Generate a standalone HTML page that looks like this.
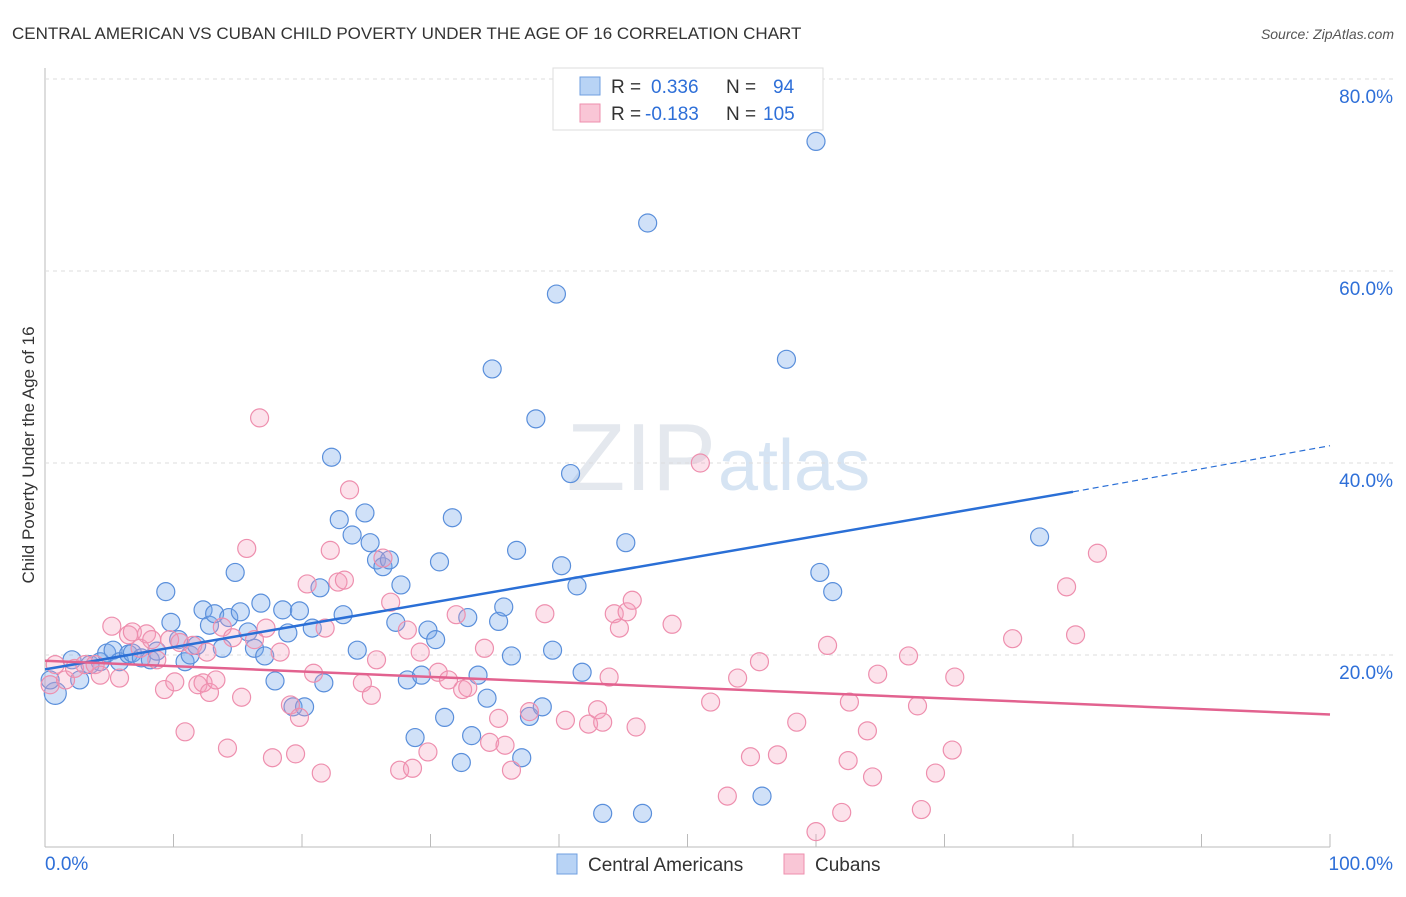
<!DOCTYPE html>
<html><head><meta charset="utf-8"><style>
body{margin:0;background:#fff;font-family:"Liberation Sans",sans-serif}
svg text{font-family:"Liberation Sans",sans-serif}
</style></head><body>
<svg id="chart" width="1406" height="892">
<text x="12" y="39" font-size="17" fill="#333">CENTRAL AMERICAN VS CUBAN CHILD POVERTY UNDER THE AGE OF 16 CORRELATION CHART</text>
<text x="1394" y="39" font-size="14" fill="#555" text-anchor="end" font-style="italic">Source: ZipAtlas.com</text>
<text transform="translate(34,455) rotate(-90)" font-size="17" fill="#333" text-anchor="middle">Child Poverty Under the Age of 16</text>
<text x="716" y="490" font-size="96" fill="#e4e8ee" text-anchor="end" font-family="Liberation Serif">ZIP</text>
<text x="718" y="490" font-size="72" fill="#d6e4f3">atlas</text>
<g id="grid"></g><g id="pts"></g><g id="lines"></g>
<g>
<rect x="553" y="68" width="270" height="62" fill="#fff" stroke="#ddd"/>
<rect x="580" y="77" width="20" height="18" fill="#b8d3f5" stroke="#6f9fe0"/>
<rect x="580" y="104" width="20" height="18" fill="#f9c6d6" stroke="#ee8fae"/>
<text y="93" font-size="19" fill="#333"><tspan x="611">R =</tspan><tspan x="651" fill="#2e6fd8">0.336</tspan><tspan x="726">N =</tspan><tspan x="773" fill="#2e6fd8">94</tspan></text>
<text y="120" font-size="19" fill="#333"><tspan x="611">R =</tspan><tspan x="645" fill="#2e6fd8">-0.183</tspan><tspan x="726">N =</tspan><tspan x="763" fill="#2e6fd8">105</tspan></text>
</g>
<g>
<rect x="557" y="854" width="20" height="20" fill="#b8d3f5" stroke="#6f9fe0"/>
<text x="588" y="871" font-size="19" fill="#333">Central Americans</text>
<rect x="784" y="854" width="20" height="20" fill="#f9c6d6" stroke="#ee8fae"/>
<text x="815" y="871" font-size="19" fill="#333">Cubans</text>
</g>
</svg>
<script>
const yTicks=[20,40,60,80];
const yTickLabels=["20.0%","40.0%","60.0%","80.0%"];
const xTickLabels=["0.0%","100.0%"];
const blueX=[0.8,0.4,2.1,2.7,3.5,4.3,4.8,5.3,5.8,6.5,6.8,7.5,8.2,8.7,9.4,9.8,10.4,10.9,11.3,11.8,12.3,12.8,13.2,13.8,14.3,14.8,15.2,15.8,16.3,16.8,17.1,17.9,18.5,18.9,19.3,19.8,20.2,20.8,21.4,21.7,22.3,22.9,23.2,23.9,24.3,24.9,25.3,25.8,26.3,26.8,27.3,27.7,28.2,28.8,29.3,29.8,30.4,30.7,31.1,31.7,32.4,32.9,33.2,33.7,34.4,34.8,35.3,35.7,36.3,36.7,37.1,37.7,38.2,38.7,39.5,39.8,40.2,40.9,41.4,41.8,43.4,45.2,46.5,46.9,55.8,57.7,60.0,60.3,61.3,77.4];
const blueY=[16.0,17.4,19.5,17.4,19.0,19.3,20.2,20.5,19.3,20.1,20.2,19.7,19.5,20.4,26.6,23.4,21.6,19.3,20.0,21.0,24.7,23.1,24.3,20.7,23.9,28.6,24.5,22.4,20.7,25.4,19.9,17.3,24.7,22.3,14.6,24.6,14.6,22.8,27.0,17.1,40.6,34.1,24.2,32.5,20.5,34.8,31.7,29.9,29.2,29.9,23.4,27.3,17.4,11.4,17.9,22.6,21.6,29.7,13.5,34.3,8.8,23.9,11.6,17.9,15.5,49.8,23.5,25.0,19.9,30.9,9.3,13.6,44.6,14.6,20.5,57.6,29.3,38.9,27.2,18.2,3.5,31.7,3.5,65.0,5.3,50.8,73.5,28.6,26.6,32.3];
const pinkX=[0.4,0.8,1.6,2.3,3.1,3.9,4.3,5.2,5.8,6.5,6.8,7.4,7.9,8.3,8.7,9.3,9.7,10.1,10.5,10.9,11.5,11.9,12.3,12.6,12.8,13.3,13.8,14.2,14.6,15.3,15.7,16.3,16.7,17.2,17.7,18.3,19.1,19.5,19.8,20.4,20.9,21.5,21.8,22.2,22.8,23.3,23.7,24.7,25.4,25.8,26.3,26.9,27.6,28.2,28.6,29.2,29.8,30.6,31.4,32.0,32.5,32.9,34.2,34.6,35.3,35.8,36.3,37.7,38.9,40.5,42.3,43.0,43.4,43.9,44.3,44.7,45.3,45.7,46.0,48.8,51.0,51.8,53.1,53.9,54.9,55.6,57.0,58.5,60.0,60.9,62.0,62.5,62.6,64.0,64.4,64.8,67.2,67.9,68.2,69.3,70.6,70.8,75.3,79.5,80.2,81.9];
const pinkY=[16.9,19.0,17.4,18.6,19.0,19.0,17.9,23.0,17.6,22.1,22.4,20.7,22.2,21.6,19.5,16.4,21.6,17.2,21.3,12.0,21.0,16.9,17.1,20.3,16.1,17.4,22.9,10.3,21.8,15.6,31.1,21.6,44.7,22.8,9.3,20.3,14.8,9.7,13.5,27.4,18.1,7.7,22.8,30.9,27.6,27.8,37.2,17.1,15.8,19.5,30.1,25.5,8.0,22.6,8.2,20.3,9.9,18.2,17.4,24.2,16.4,16.6,20.7,10.9,13.4,10.6,8.0,14.1,24.3,13.2,12.8,14.3,13.0,17.7,24.3,22.8,24.5,25.7,12.5,23.2,40.0,15.1,5.3,17.6,9.4,19.3,9.6,13.0,1.6,21.0,3.6,9.0,15.1,12.1,7.3,18.0,19.9,14.7,3.9,7.7,10.1,17.7,21.7,27.1,22.1,30.6];
const blueFit=[18.5,37.0,41.8];
const pinkFit=[19.4,13.8];
const svg=document.getElementById('chart'),NS='http://www.w3.org/2000/svg';
const L=45,R=1330,B=847,PX=(R-L)/100,PY=9.6;
const sx=v=>L+v*PX, sy=v=>B-v*PY;
function mk(t,a,p){const e=document.createElementNS(NS,t);for(const k in a)e.setAttribute(k,a[k]);p.appendChild(e);return e;}
const grid=document.getElementById('grid');
mk('line',{x1:45,y1:68,x2:45,y2:847,stroke:'#bbb'},grid);
mk('line',{x1:45,y1:847,x2:1330,y2:847,stroke:'#bbb'},grid);
for(let i=0;i<=10;i++){const t=mk('line',{x1:sx(i*10),y1:834,x2:sx(i*10),y2:847,stroke:'#bbb'},grid);

}
yTicks.forEach((v,i)=>{const g=mk('line',{x1:45,y1:sy(v),x2:1394,y2:sy(v),stroke:'#ddd','stroke-dasharray':'4,4'},grid);


const t=mk('text',{x:1393,y:sy(v)+24,'font-size':19,fill:'#2e6fd8','text-anchor':'end'},grid);t.textContent=yTickLabels[i];

});
const xl0=mk('text',{x:45,y:870,'font-size':19,fill:'#2e6fd8'},grid);xl0.textContent=xTickLabels[0];


const xl1=mk('text',{x:1393,y:870,'font-size':19,fill:'#2e6fd8','text-anchor':'end'},grid);xl1.textContent=xTickLabels[1];


const pts=document.getElementById('pts');
blueX.forEach((x,i)=>{const c=mk('circle',{cx:sx(x),cy:sy(blueY[i]),r:i==0?11:9,fill:'rgba(120,170,235,0.35)',stroke:'#5a8fdb','stroke-width':1.2},pts);

});
pinkX.forEach((x,i)=>{const c=mk('circle',{cx:sx(x),cy:sy(pinkY[i]),r:9,fill:'rgba(245,160,190,0.3)',stroke:'#ee8fae','stroke-width':1.2},pts);

});
const ln=document.getElementById('lines');
const b1=mk('line',{x1:sx(0),y1:sy(blueFit[0]),x2:sx(80),y2:sy(blueFit[1]),stroke:'#2a6fd6','stroke-width':2.5},ln);


const b2=mk('line',{x1:sx(80),y1:sy(blueFit[1]),x2:sx(100),y2:sy(blueFit[2]),stroke:'#2a6fd6','stroke-width':1.2,'stroke-dasharray':'6,4'},ln);


const p1=mk('line',{x1:sx(0),y1:sy(pinkFit[0]),x2:sx(100),y2:sy(pinkFit[1]),stroke:'#e2628f','stroke-width':2.5},ln);


</script>
</body></html>
